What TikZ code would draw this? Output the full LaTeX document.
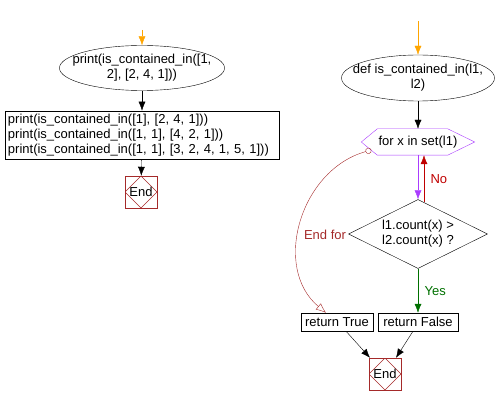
\documentclass[tikz,border=0pt]{standalone}
\usepackage{fontspec}
\setmainfont{Liberation Sans}
\usetikzlibrary{arrows.meta,shapes.geometric}

\definecolor{loopred}{RGB}{165,42,42}
\definecolor{nored}{RGB}{192,0,0}
\definecolor{yesgreen}{RGB}{0,112,0}
\definecolor{forpurple}{RGB}{170,60,255}
\definecolor{startorange}{RGB}{255,165,0}

\tikzset{
  startnode/.style={ellipse, draw, align=center, inner xsep=-11pt, inner ysep=0pt},
  procbox/.style={rectangle, draw, inner sep=3pt},
  decision/.style={diamond, draw, align=center, inner sep=0pt, aspect=2},
  endnode/.style={rectangle, draw=loopred, minimum size=32pt, inner sep=0pt,
    path picture={\draw[loopred] (path picture bounding box.north)
      -- (path picture bounding box.east) -- (path picture bounding box.south)
      -- (path picture bounding box.west) -- cycle;}},
  flow/.style={-{Latex[length=9pt,width=7pt]}},
}

\begin{document}
\begin{tikzpicture}[x=1pt, y=-1pt, font=\fontsize{13}{15}\selectfont]
    \useasboundingbox (0,0) rectangle (498,406);

    % left part: the calls
    \coordinate (inL) at (142,30);
    \node[startnode, minimum width=161pt, minimum height=45pt] (callL) at (142,68)
        {print(is\_contained\_in([1,\\2], [2, 4, 1]))};
    \node[procbox, minimum width=274pt, minimum height=48pt, text width=268pt,
        align=left] (prints) at (142,135)
        {print(is\_contained\_in([1], [2, 4, 1]))\\
         print(is\_contained\_in([1, 1], [4, 2, 1]))\\
         print(is\_contained\_in([1, 1], [3, 2, 4, 1, 5, 1]))};
    \node[endnode] (endL) at (141,192) {End};

    \draw[flow, startorange] (inL) -- (callL);
    \draw[flow] (callL) -- (prints);
    \draw[flow] (prints) -- (endL);

    % right part: the function
    \coordinate (inR) at (418,21);
    \node[startnode, minimum width=153pt, minimum height=46pt] (defn) at (418,78)
        {def is\_contained\_in(l1,\\l2)};
    \node[minimum width=113pt, minimum height=26pt, inner sep=0pt] (loop) at (418,142)
        {for x in set(l1)};
    \draw[forpurple] (loop.west) -- ([xshift=16]loop.north west)
        -- ([xshift=-27]loop.north east) -- (loop.east)
        -- ([xshift=-27]loop.south east) -- ([xshift=16]loop.south west) -- cycle;
    \node[decision, minimum width=139pt, minimum height=69pt] (check) at (418,234)
        {l1.count(x) >\\l2.count(x) ?};
    \node[procbox, minimum width=72pt, minimum height=18pt, inner sep=0pt] (retT) at (337,322)
        {return True};
    \node[procbox, minimum width=80pt, minimum height=18pt, inner sep=0pt] (retF) at (418,322)
        {return False};
    \node[endnode] (endR) at (385,374) {End};
    \coordinate (exitL) at ([shift={(10,8)}]loop.west);
    \node[loopred] (endfor) at (325,235) {End for};

    \draw[flow, startorange] (inR) -- (defn);
    \draw[flow] (defn) -- (loop);
    \draw[flow, forpurple] (loop.south) -- (check.north);
    \draw[flow, nored] ([shift={(6,3)}]check.north) -- ([xshift=6]loop.south)
        node[midway, right=3pt] {No};
    \draw[{Circle[open,length=6pt]}-{Latex[open,length=10pt,width=8pt]}, loopred]
        (exitL) .. controls (300,170) and (272,268) .. ([xshift=-11]retT.north);
    \draw[flow, yesgreen] (check.south) -- (retF.north)
        node[midway, right=3pt] {Yes};
    \draw[flow] ([xshift=9]retT.south) -- ([xshift=-15]endR.north);
    \draw[flow] ([xshift=-5]retF.south) -- ([xshift=11]endR.north);
\end{tikzpicture}
\end{document}
